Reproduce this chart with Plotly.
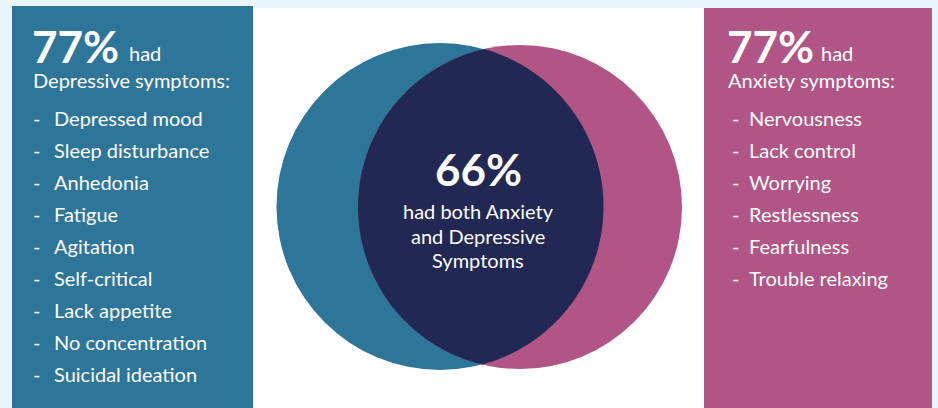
import numpy as np
import plotly.graph_objects as go

# ---- data ----
dep_pct = 77
anx_pct = 77
both_pct = 66
dep_title = "Depressive symptoms:"
anx_title = "Anxiety symptoms:"
dep_symptoms = ["Depressed mood", "Sleep disturbance", "Anhedonia", "Fatigue", "Agitation",
                "Self-critical", "Lack appetite", "No concentration", "Suicidal ideation"]
anx_symptoms = ["Nervousness", "Lack control", "Worrying", "Restlessness", "Fearfulness",
                "Trouble relaxing"]
both_text = ["had both Anxiety", "and Depressive", "Symptoms"]

# ---- style ----
W, H = 938, 408
BG = "#e8f5fb"
BLUE = "#2e7699"
PINK = "#b05585"
NAVY = "#212853"
FONT = "Lato"
FS = 20

fig = go.Figure()
shapes = []
shapes.append(dict(type="rect", x0=253, x1=704, y0=8, y1=H, fillcolor="white", line_width=0, layer="below"))
shapes.append(dict(type="rect", x0=12, x1=253, y0=6, y1=H, fillcolor=BLUE, line_width=0, layer="below"))
shapes.append(dict(type="rect", x0=704, x1=932, y0=8, y1=H, fillcolor=PINK, line_width=0, layer="below"))

c1 = (440.0, 206.5, 163.5)
c2 = (520.0, 207.0, 162.0)
for (cx, cy, r), col in [(c1, BLUE), (c2, PINK)]:
    shapes.append(dict(type="circle", x0=cx - r, x1=cx + r, y0=cy - r, y1=cy + r,
                       fillcolor=col, line_width=0, layer="below"))

x1, y1, r1 = c1
x2, y2, r2 = c2
d = np.hypot(x2 - x1, y2 - y1)
a = (r1**2 - r2**2 + d**2) / (2 * d)
h = np.sqrt(r1**2 - a**2)
ux, uy = (x2 - x1) / d, (y2 - y1) / d
px, py = x1 + a * ux, y1 + a * uy
pA = (px - h * uy, py + h * ux)
pB = (px + h * uy, py - h * ux)

def arc(cx, cy, r, p_start, p_end, n=120):
    t0 = np.arctan2(p_start[1] - cy, p_start[0] - cx)
    t1 = np.arctan2(p_end[1] - cy, p_end[0] - cx)
    dt = (t1 - t0) % (2 * np.pi)
    if dt > np.pi:
        dt -= 2 * np.pi
    t = np.linspace(t0, t0 + dt, n)
    return list(zip(cx + r * np.cos(t), cy + r * np.sin(t)))

pts = arc(x1, y1, r1, pA, pB) + arc(x2, y2, r2, pB, pA)
path = "M " + " L ".join(f"{x:.2f},{y:.2f}" for x, y in pts) + " Z"
shapes.append(dict(type="path", path=path, fillcolor=NAVY, line_width=0, layer="below"))

ann = []
def txt(x, y, s, size, bold=False, anchor="left", yanchor="middle"):
    ann.append(dict(x=x, y=y, xref="x", yref="y", text=(f"<b>{s}</b>" if bold else s),
                    showarrow=False, xanchor=anchor, yanchor=yanchor,
                    font=dict(family=FONT, size=size, color="white")))

txt(30, 46, f"{dep_pct}%", 44, bold=True)
txt(127, 53, "had", FS)
txt(31, 80, dep_title, FS)
for i, s in enumerate(dep_symptoms):
    y = 118 + 32 * i
    txt(31, y, "-", FS)
    txt(52, y, s, FS)

txt(725, 46, f"{anx_pct}%", 44, bold=True)
txt(819, 53, "had", FS)
txt(726, 80, anx_title, FS)
for i, s in enumerate(anx_symptoms):
    y = 118 + 32 * i
    txt(730, y, "-", FS)
    txt(747, y, s, FS)

txt(478, 169, f"{both_pct}%", 44, bold=True, anchor="center")
for i, s in enumerate(both_text):
    txt(478, 211 + 24.5 * i, s, FS, anchor="center")

fig.update_layout(
    width=W, height=H, margin=dict(l=0, r=0, t=0, b=0),
    paper_bgcolor=BG, plot_bgcolor=BG,
    xaxis=dict(range=[0, W], visible=False, fixedrange=True),
    yaxis=dict(range=[H, 0], visible=False, fixedrange=True),
    shapes=shapes, annotations=ann, showlegend=False,
)
fig.write_html("out.html", config={"displayModeBar": False})
